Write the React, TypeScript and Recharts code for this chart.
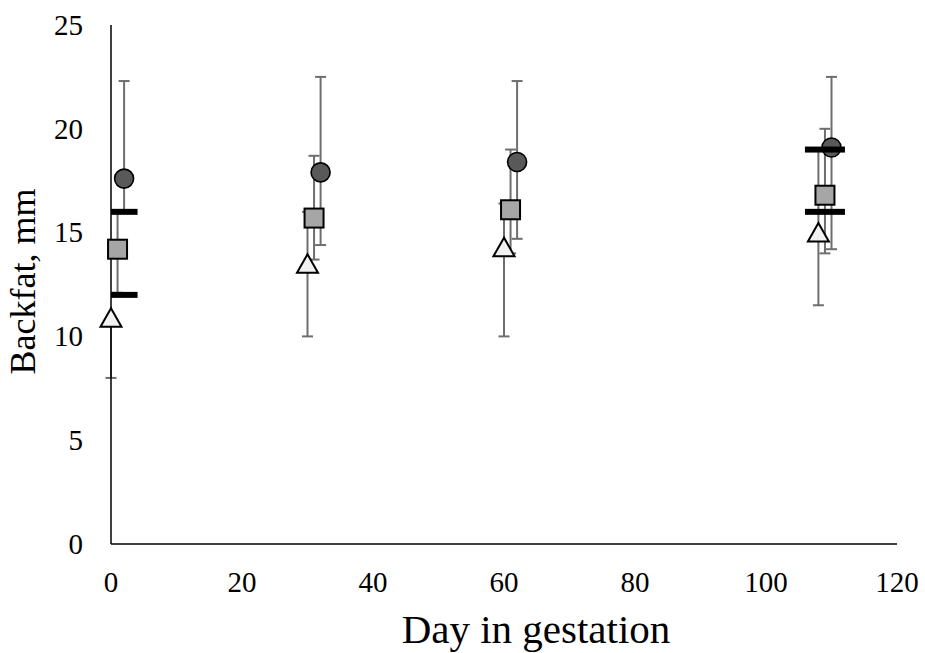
import React from "react";
import { ScatterChart, Scatter, XAxis, YAxis, ErrorBar, Label } from "recharts";

// ─── Data ─────────────────────────────────────────────────────────────────────
const xTicks = [0, 20, 40, 60, 80, 100, 120];
const yTicks = [0, 5, 10, 15, 20, 25];

// open triangles
const triDays = [0, 30, 60, 108];
const triMean = [10.9, 13.5, 14.3, 15.0];
const triLow  = [8.0, 10.0, 10.0, 11.5];
const triHigh = [10.9, 16.0, 16.4, 19.0];

// grey squares
const sqDays = [1, 31, 61, 109];
const sqMean = [14.2, 15.7, 16.1, 16.8];
const sqLow  = [12.1, 13.7, 14.0, 14.0];
const sqHigh = [16.0, 18.7, 19.0, 20.0];

// dark circles
const cirDays = [2, 32, 62, 110];
const cirMean = [17.6, 17.9, 18.4, 19.1];
const cirLow  = [16.0, 14.4, 14.7, 14.2];
const cirHigh = [22.3, 22.5, 22.3, 22.5];

// black range bars
const rangeDays   = [1, 1, 109, 109];
const rangeValues = [16, 12, 19, 16];

const rows = (days: number[], mean: number[], low: number[], high: number[]) =>
  days.map((x, i) => ({ x, y: mean[i], err: [mean[i] - low[i], high[i] - mean[i]] }));

const triRows   = rows(triDays, triMean, triLow, triHigh);
const sqRows    = rows(sqDays, sqMean, sqLow, sqHigh);
const cirRows   = rows(cirDays, cirMean, cirLow, cirHigh);
const rangeRows = rangeDays.map((x, i) => ({ x, y: rangeValues[i] }));

// ─── Styles ───────────────────────────────────────────────────────────────────
const FONT = '"Liberation Serif", "Times New Roman", serif';
const ERR  = "#6e6e6e";
const AXIS = { stroke: "#000", strokeWidth: 1.5 };

// ─── Ticks ────────────────────────────────────────────────────────────────────
const XTick = ({ x, y, payload }: any) => (
  <text x={x} y={y} dy="0.71em" textAnchor="middle" fontFamily={FONT} fontSize={29} fill="#000">
    {payload.value}
  </text>
);

const YTick = ({ x, y, payload }: any) => (
  <text x={x} y={y} dy="0.34em" textAnchor="end" fontFamily={FONT} fontSize={29} fill="#000">
    {payload.value}
  </text>
);

// ─── Shapes ───────────────────────────────────────────────────────────────────
const Nothing = () => <g />;

const Circle = ({ cx, cy }: any) => (
  <circle cx={cx} cy={cy} r={9.5} fill="#595959" stroke="#000" strokeWidth={1.6} />
);

const Square = ({ cx, cy }: any) => (
  <rect x={cx - 9.5} y={cy - 9.5} width={19} height={19} fill="#a6a6a6" stroke="#000" strokeWidth={2} />
);

const Triangle = ({ cx, cy }: any) => (
  <polygon
    points={`${cx},${cy - 9.5} ${cx - 10.5},${cy + 9} ${cx + 10.5},${cy + 9}`}
    fill="#f2f2f2" stroke="#000" strokeWidth={2} strokeLinejoin="miter"
  />
);

const Dash = ({ cx, cy }: any) => (
  <rect x={cx - 20} y={cy - 3} width={40} height={6} fill="#000" />
);

// ─── Axis titles ──────────────────────────────────────────────────────────────
const XTitle = ({ viewBox }: any) => {
  const { x = 0, y = 0, width = 0 } = viewBox || {};
  return (
    <text x={x + width / 2 + 32} y={y + 99} textAnchor="middle"
      fontFamily={FONT} fontSize={41} fill="#000">
      Day in gestation
    </text>
  );
};

const YTitle = ({ viewBox }: any) => {
  const { x = 0, y = 0, height = 0 } = viewBox || {};
  const tx = x + 35;
  const ty = y + height / 2 - 3;
  return (
    <text x={tx} y={ty} textAnchor="middle" transform={`rotate(-90, ${tx}, ${ty})`}
      fontFamily={FONT} fontSize={36} fill="#000">
      Backfat, mm
    </text>
  );
};

// ─── Component ────────────────────────────────────────────────────────────────
export default function App() {
  return (
    <div style={{ position: "absolute", left: 0, top: 0, width: 925, height: 653, background: "#fff" }}>
      <ScatterChart width={925} height={653} margin={{ top: 25, right: 28, bottom: 0, left: 0 }}
        style={{ fontFamily: FONT }}>
        <XAxis
          xAxisId="main" type="number" dataKey="x" domain={[0, 120]} ticks={xTicks} interval={0}
          height={109} tickLine={false} tickSize={0} tickMargin={27}
          axisLine={AXIS} tick={<XTick />}
        >
          <Label content={XTitle} />
        </XAxis>
        <XAxis xAxisId="clip" type="number" dataKey="x" domain={[0, 120]} allowDataOverflow hide height={0} />
        <YAxis
          type="number" dataKey="y" domain={[0, 25]} ticks={yTicks} interval={0}
          width={111} tickLine={false} tickSize={0} tickMargin={28}
          axisLine={AXIS} tick={<YTick />}
        >
          <Label content={YTitle} />
        </YAxis>

        {/* error bars, clipped to the plot area */}
        <Scatter xAxisId="clip" data={triRows} shape={Nothing} isAnimationActive={false}>
          <ErrorBar dataKey="err" direction="y" width={5.5} stroke={ERR} strokeWidth={2} isAnimationActive={false} />
        </Scatter>
        <Scatter xAxisId="clip" data={sqRows} shape={Nothing} isAnimationActive={false}>
          <ErrorBar dataKey="err" direction="y" width={5.5} stroke={ERR} strokeWidth={2} isAnimationActive={false} />
        </Scatter>
        <Scatter xAxisId="clip" data={cirRows} shape={Nothing} isAnimationActive={false}>
          <ErrorBar dataKey="err" direction="y" width={5.5} stroke={ERR} strokeWidth={2} isAnimationActive={false} />
        </Scatter>

        {/* markers */}
        <Scatter xAxisId="main" data={triRows} shape={Triangle} isAnimationActive={false} />
        <Scatter xAxisId="main" data={sqRows} shape={Square} isAnimationActive={false} />
        <Scatter xAxisId="main" data={cirRows} shape={Circle} isAnimationActive={false} />

        {/* black range bars */}
        <Scatter xAxisId="clip" data={rangeRows} shape={Dash} isAnimationActive={false} />
      </ScatterChart>
    </div>
  );
}
